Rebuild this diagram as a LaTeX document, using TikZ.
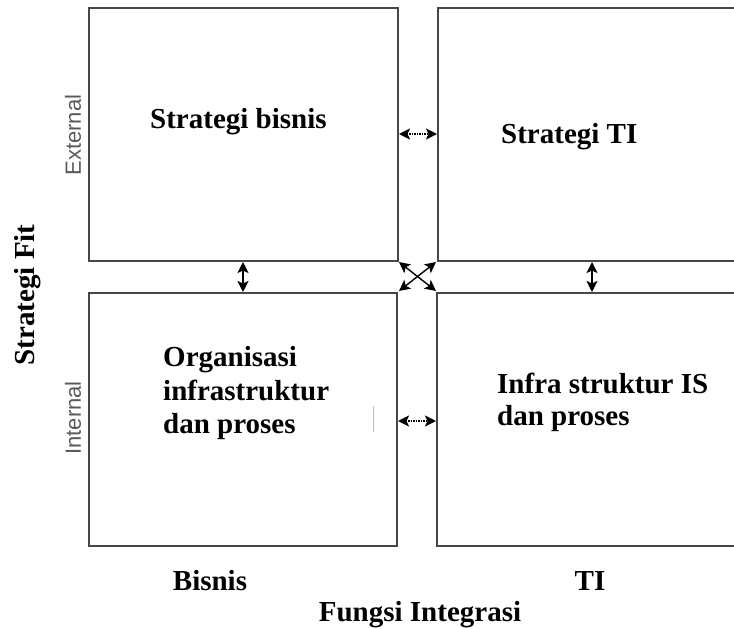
\documentclass[tikz,border=0pt]{standalone}
\usepackage{fontspec}
\setmainfont{Liberation Serif}
\newfontfamily\lsans{Liberation Sans}
\usetikzlibrary{arrows.meta}
\begin{document}
\begin{tikzpicture}[x=1pt,y=-1pt,
  boxline/.style={draw=black!72, line width=2pt},
  lbl/.style={font=\fontsize{29}{34}\selectfont\bfseries, anchor=base west, inner sep=0pt},
  lblc/.style={font=\fontsize{29}{34}\selectfont\bfseries, anchor=base, inner sep=0pt},
  side/.style={font=\lsans\fontsize{22}{26}\selectfont, text=black!65, rotate=90, inner sep=0pt},
  dbl/.style={{Stealth[length=11pt,width=11pt,inset=2.5pt]}-{Stealth[length=11pt,width=11pt,inset=2.5pt]}, line width=1.8pt},
  dotted arrow/.style={dbl, dash pattern=on 1.5pt off 1pt},
]
\useasboundingbox (0,0) rectangle (734,629);
\fill[white] (0,0) rectangle (734,629);

% boxes
\draw[boxline] (89,8) rectangle (398,261);
\draw[boxline] (89,293) rectangle (397,546);
\draw[boxline] (736,8) -- (438,8) -- (438,261) -- (736,261);
\draw[boxline] (736,293) -- (437,293) -- (437,546) -- (736,546);

% coordinates for connectors
\coordinate (v1a) at (243,262);
\coordinate (v1b) at (243,292);
\coordinate (v2a) at (592,262);
\coordinate (v2b) at (592,292);
\coordinate (h1a) at (399,134);
\coordinate (h1b) at (437,134);
\coordinate (h2a) at (398,421);
\coordinate (h2b) at (436,421);
\coordinate (xa) at (399,262);
\coordinate (xb) at (436,291);
\coordinate (xc) at (436,262);
\coordinate (xd) at (399,291);

\draw[dbl] (v1a) -- (v1b);
\draw[dbl] (v2a) -- (v2b);
\draw[dotted arrow] (h1a) -- (h1b);
\draw[dotted arrow] (h2a) -- (h2b);
\draw[dbl, line width=1.4pt] (xa) -- (xb);
\draw[dbl, line width=1.4pt] (xc) -- (xd);

% faint mark
\draw[black!25, line width=0.8pt] (373,406) -- (373,432);

% texts
\node[lbl] (sb) at (150,128) {Strategi bisnis};
\node[lbl] (sti) at (501,143) {Strategi TI};
\node[lbl] (o1) at (163,366) {Organisasi};
\node[lbl] (o2) at (163,400) {infrastruktur};
\node[lbl] (o3) at (163,433) {dan proses};
\node[lbl] (i1) at (497,393) {Infra struktur IS};
\node[lbl] (i2) at (497,425) {dan proses};
\node[lblc] (bis) at (210,590) {Bisnis};
\node[lblc] (ti) at (590,590) {TI};
\node[lblc] (fi) at (420,621) {Fungsi Integrasi};
\node[lblc, rotate=90, anchor=center] (sf) at (28,295) {Strategi Fit};
\node[side] (ext) at (73,135) {External};
\node[side] (int) at (73,418) {Internal};
\end{tikzpicture}
\end{document}
